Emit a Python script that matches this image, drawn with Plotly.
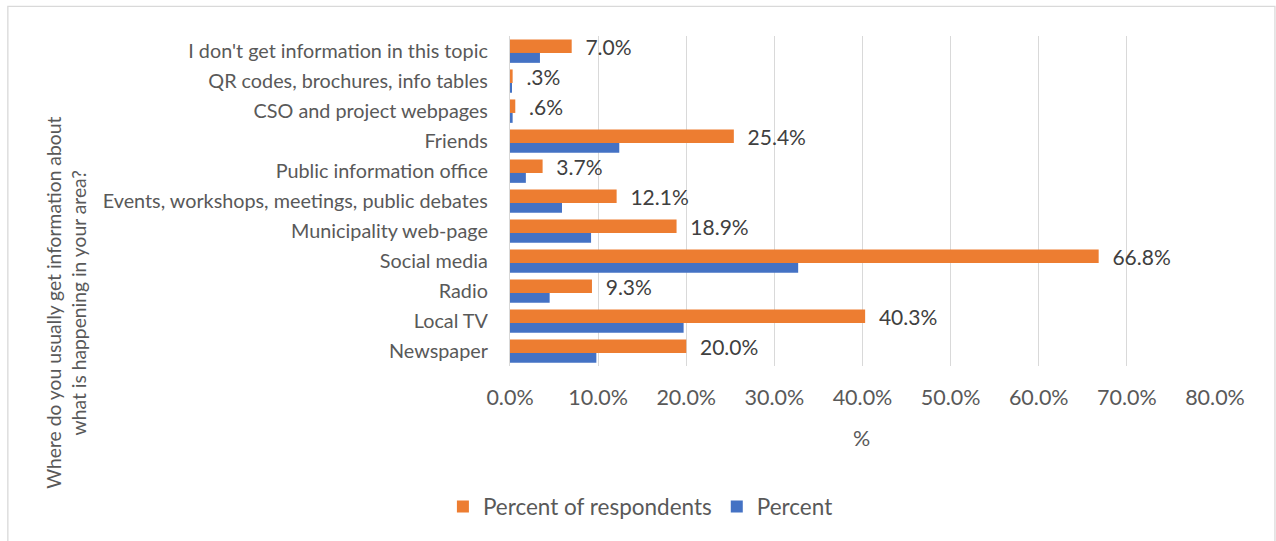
import plotly.graph_objects as go

# Survey answers, listed top to bottom as they appear on the chart
categories = [
    "I don't get information in this topic",
    "QR codes, brochures, info tables",
    "CSO and project webpages",
    "Friends",
    "Public information office",
    "Events, workshops, meetings, public debates",
    "Municipality web-page",
    "Social media",
    "Radio",
    "Local TV",
    "Newspaper",
]
percent_of_respondents = [7.0, 0.3, 0.6, 25.4, 3.7, 12.1, 18.9, 66.8, 9.3, 40.3, 20.0]
percent = [3.4, 0.15, 0.3, 12.4, 1.8, 5.9, 9.2, 32.7, 4.5, 19.7, 9.8]
x_ticks = [0, 10, 20, 30, 40, 50, 60, 70, 80]
x_tick_labels = ["0.0%", "10.0%", "20.0%", "30.0%", "40.0%", "50.0%", "60.0%", "70.0%", "80.0%"]

ORANGE = "#ED7D31"
BLUE = "#4472C4"
GREY_TEXT = "#595959"
FONT = "Lato"


def pct_label(v):
    s = f"{v:.1f}%"
    return s[1:] if s.startswith("0.") else s


W, H = 1276, 541
L, R, T, B = 509.5, 61, 35.7, 175
plot_w = W - L - R
plot_h = H - T - B


def px_to_paper_x(px):
    return (px - L) / plot_w


def px_to_paper_y(py):
    return (H - B - py) / plot_h


fig = go.Figure()

fig.add_trace(go.Bar(
    name="Percent of respondents",
    y=categories,
    x=percent_of_respondents,
    orientation="h",
    marker=dict(color=ORANGE, line=dict(width=0)),
    width=0.45,
    offset=-0.385,
    text=["  " + pct_label(v) for v in percent_of_respondents],
    textposition="outside",
    constraintext="none",
    textfont=dict(family=FONT, size=21, color="#404040"),
    cliponaxis=False,
    hoverinfo="skip",
))

fig.add_trace(go.Bar(
    name="Percent",
    y=categories,
    x=percent,
    orientation="h",
    marker=dict(color=BLUE, line=dict(width=0)),
    width=0.33,
    offset=0.065,
    hoverinfo="skip",
))

fig.update_layout(
    width=W,
    height=H,
    margin=dict(l=L, r=R, t=T, b=B, autoexpand=False),
    paper_bgcolor="white",
    plot_bgcolor="white",
    barmode="overlay",
    font=dict(family=FONT, color=GREY_TEXT),
    showlegend=True,
    legend=dict(
        orientation="h",
        x=px_to_paper_x(640),
        xanchor="center",
        y=px_to_paper_y(507),
        yanchor="middle",
        font=dict(family=FONT, size=22.5, color=GREY_TEXT),
        traceorder="normal",
        itemwidth=30,
    ),
    xaxis=dict(
        range=[0, 80],
        tickvals=x_ticks,
        ticktext=x_tick_labels,
        showgrid=True,
        gridcolor="#D9D9D9",
        gridwidth=1.3,
        zeroline=False,
        showline=False,
        ticks="",
        ticklabelstandoff=16,
        tickfont=dict(family=FONT, size=21.5, color=GREY_TEXT),
        fixedrange=True,
    ),
    yaxis=dict(
        categoryorder="array",
        categoryarray=categories,
        autorange="reversed",
        showgrid=False,
        zeroline=False,
        showline=True,
        linecolor="#D9D9D9",
        linewidth=1.3,
        ticks="",
        ticklabelstandoff=17,
        tickfont=dict(family=FONT, size=19.8, color=GREY_TEXT),
        fixedrange=True,
    ),
    annotations=[
        dict(
            text="%",
            xref="paper", yref="paper",
            x=px_to_paper_x(861), y=px_to_paper_y(438),
            xanchor="center", yanchor="middle",
            showarrow=False,
            font=dict(family=FONT, size=21.5, color=GREY_TEXT),
        ),
        dict(
            text="Where do you usually get information about<br>what is happening in your area?",
            xref="paper", yref="paper",
            x=px_to_paper_x(64.5), y=px_to_paper_y(302.5),
            xanchor="center", yanchor="middle",
            textangle=-90,
            showarrow=False,
            font=dict(family=FONT, size=19.3, color=GREY_TEXT),
        ),
    ],
    shapes=[
        dict(
            type="rect",
            xref="paper", yref="paper",
            x0=px_to_paper_x(7), x1=px_to_paper_x(1275),
            y0=px_to_paper_y(560), y1=px_to_paper_y(6),
            line=dict(color="#D9D9D9", width=1.3),
            fillcolor="rgba(0,0,0,0)",
            layer="below",
        ),
    ],
)

fig.write_html("out.html")
